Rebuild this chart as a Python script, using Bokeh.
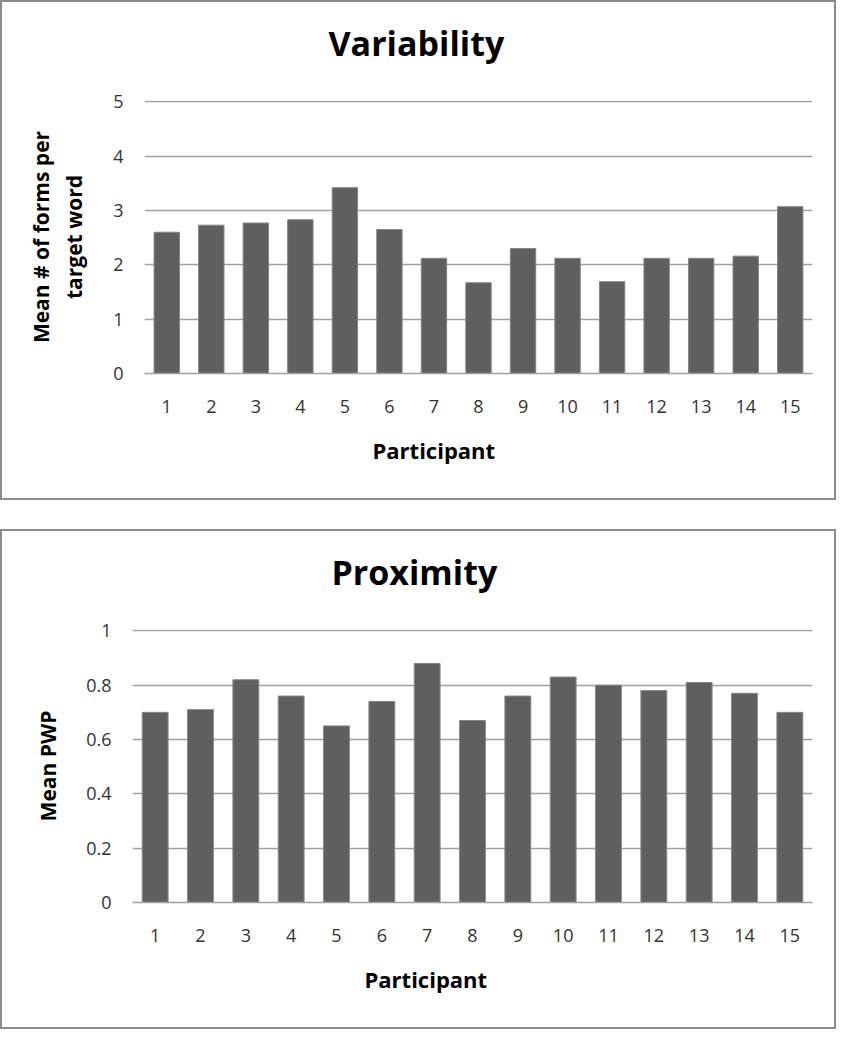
from bokeh.plotting import figure
from bokeh.layouts import column
from bokeh.models import FactorRange, Range1d, FixedTicker, Title
from bokeh.embed import file_html
from bokeh.resources import INLINE

participants = [str(i) for i in range(1, 16)]
variability = [2.60, 2.73, 2.77, 2.83, 3.42, 2.65, 2.12, 1.67, 2.30, 2.12, 1.69, 2.12, 2.12, 2.16, 3.07]
proximity = [0.70, 0.71, 0.82, 0.76, 0.65, 0.74, 0.88, 0.67, 0.76, 0.83, 0.80, 0.78, 0.81, 0.77, 0.70]
var_ticks = [0, 1, 2, 3, 4, 5]
var_tick_labels = ["0", "1", "2", "3", "4", "5"]
prox_ticks = [0, 0.2, 0.4, 0.6, 0.8, 1.0]
prox_tick_labels = ["0", "0.2", "0.4", "0.6", "0.8", "1"]

FONT = "Open Sans"
W, H = 836, 500


def make_panel(title, ylabel, values, ticks, tick_labels, left, title_offset,
               xlabel_offset, ylabel_standoff):
    top = ticks[-1]
    p = figure(width=W, height=H, output_backend="svg", toolbar_location=None,
               x_range=FactorRange(*participants, range_padding=0),
               y_range=Range1d(ticks[0], top + top * 0.005), tools="")
    p.min_border_left = left
    p.min_border_right = 26
    p.min_border_top = 98
    p.min_border_bottom = 129
    p.outline_line_color = None
    p.background_fill_color = "white"
    p.border_fill_color = "white"

    spacer = Title(text=" ", text_font_size="2px", standoff=29)
    p.add_layout(spacer, "above")
    t = Title(text=title, align="left", text_font=FONT, text_font_size="34px",
              text_font_style="bold", text_color="black", standoff=4, offset=title_offset)
    p.add_layout(t, "above")

    p.vbar(x=participants, top=values, width=0.57, fill_color="#5f5f5f",
           line_color="#858585", line_width=1)

    p.xgrid.visible = False
    p.ygrid.grid_line_color = "#a0a0a0"
    p.ygrid.grid_line_width = 1.5

    p.yaxis.ticker = FixedTicker(ticks=ticks)
    p.yaxis.major_label_overrides = {tk: lb for tk, lb in zip(ticks, tick_labels)}
    p.yaxis.axis_line_color = None
    p.yaxis.major_tick_line_color = None
    p.yaxis.minor_tick_line_color = None
    p.yaxis.major_tick_out = 0
    p.yaxis.major_label_standoff = 21
    p.yaxis.major_label_text_font = FONT
    p.yaxis.major_label_text_font_size = "18px"
    p.yaxis.major_label_text_color = "#333333"
    p.yaxis.axis_label = ylabel
    p.yaxis.axis_label_text_font = FONT
    p.yaxis.axis_label_text_font_size = "21px"
    p.yaxis.axis_label_text_font_style = "bold"
    p.yaxis.axis_label_text_color = "black"
    p.yaxis.axis_label_standoff = ylabel_standoff

    p.xaxis.axis_line_color = "#a0a0a0"
    p.xaxis.axis_line_width = 1.5
    p.xaxis.major_tick_line_color = None
    p.xaxis.major_tick_out = 0
    p.xaxis.major_label_standoff = 26
    p.xaxis.major_label_text_font = FONT
    p.xaxis.major_label_text_font_size = "18px"
    p.xaxis.major_label_text_color = "#333333"

    xl = Title(text="Participant", align="left", text_font=FONT, text_font_size="22px",
               text_font_style="bold", text_color="black", standoff=34, offset=xlabel_offset)
    p.add_layout(xl, "below")

    p.styles = {"border": "2px solid #8c8c8c", "box-sizing": "border-box"}
    return p


p1 = make_panel("Variability", "Mean # of forms per\ntarget word", variability,
                var_ticks, var_tick_labels, 142, 184, 228, 22)
p2 = make_panel("Proximity", "Mean PWP", proximity,
                prox_ticks, prox_tick_labels, 130, 199, 232, 21)

layout = column(column(p1), column(p2), spacing=29)
open("out.html", "w").write(file_html(layout, INLINE))
